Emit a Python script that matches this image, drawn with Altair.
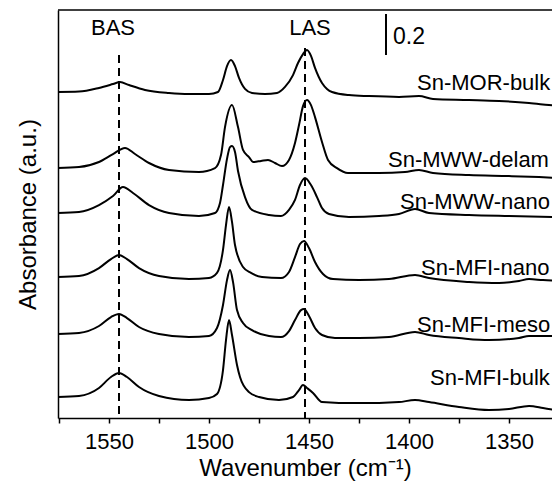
import altair as alt
import pandas as pd

FONT = "Liberation Sans"

# ---- spectra (wavenumber in cm-1, absorbance in a.u. incl. stacking offset) ----
mor_wn = [1575.5, 1565, 1555, 1548, 1544.5, 1540, 1532, 1520, 1510, 1500, 1495.5, 1493, 1491, 1489,
          1487, 1485, 1482, 1478.5, 1472, 1466, 1462, 1458, 1455.5, 1453, 1451, 1449, 1447, 1443.5,
          1441, 1438.5, 1430, 1420, 1405, 1395, 1388, 1370, 1355, 1340, 1330, 1324.5]
mor_ab = [1.598, 1.600, 1.618, 1.637, 1.647, 1.632, 1.608, 1.593, 1.588, 1.588, 1.598, 1.657, 1.725, 1.755,
          1.725, 1.667, 1.613, 1.593, 1.588, 1.593, 1.623, 1.681, 1.740, 1.784, 1.804, 1.775, 1.716, 1.642,
          1.613, 1.598, 1.583, 1.578, 1.574, 1.578, 1.564, 1.559, 1.554, 1.544, 1.534, 1.529]

delam_wn = [1575.5, 1565, 1555, 1548, 1542, 1537, 1530, 1520, 1505, 1497, 1494, 1492, 1488.5, 1485.5,
            1483, 1480, 1478, 1474, 1470.5, 1467, 1463.5, 1460, 1457, 1455, 1453, 1451, 1449, 1447,
            1443.5, 1440.5, 1436, 1430.5, 1415, 1402, 1395, 1388, 1370, 1350, 1335, 1324.5]
delam_ab = [1.225, 1.230, 1.255, 1.294, 1.324, 1.294, 1.250, 1.216, 1.206, 1.225, 1.289, 1.426, 1.534, 1.426,
            1.314, 1.279, 1.255, 1.260, 1.265, 1.250, 1.235, 1.265, 1.348, 1.436, 1.529, 1.559, 1.534, 1.475,
            1.353, 1.265, 1.225, 1.201, 1.201, 1.206, 1.216, 1.201, 1.191, 1.186, 1.181, 1.176]

mwwnano_wn = [1575.5, 1565, 1555, 1548, 1543, 1538, 1530, 1520, 1505, 1497, 1494.5, 1493, 1491, 1489.5,
              1488.5, 1487, 1485.5, 1482, 1478.5, 1470, 1464, 1460, 1457, 1454.5, 1452, 1449, 1446,
              1443.5, 1440, 1430, 1415, 1405, 1397, 1390, 1370, 1350, 1324.5]
mwwnano_ab = [1.005, 1.010, 1.044, 1.088, 1.132, 1.103, 1.044, 1.005, 0.990, 1.005, 1.054, 1.142, 1.270, 1.328,
              1.333, 1.304, 1.211, 1.083, 1.020, 0.995, 0.990, 1.020, 1.069, 1.142, 1.176, 1.142, 1.083,
              1.029, 1.000, 0.985, 0.990, 1.000, 1.025, 1.005, 0.995, 0.990, 0.985]

mfinano_wn = [1575.5, 1565, 1555, 1549, 1545, 1541, 1535, 1525, 1510, 1500, 1496, 1493, 1491.5, 1490,
              1488.5, 1487, 1483, 1479, 1473.5, 1464, 1460, 1457, 1454.5, 1452.5, 1450, 1447, 1443,
              1438, 1425, 1410, 1397, 1390, 1370, 1355, 1345, 1340, 1333, 1324.5]
mfinano_ab = [0.691, 0.696, 0.735, 0.779, 0.799, 0.779, 0.735, 0.696, 0.681, 0.686, 0.711, 0.824, 0.946, 1.034,
              0.961, 0.848, 0.740, 0.711, 0.691, 0.686, 0.716, 0.789, 0.853, 0.868, 0.833, 0.765, 0.706,
              0.681, 0.676, 0.681, 0.701, 0.686, 0.667, 0.662, 0.672, 0.681, 0.676, 0.672]

meso_wn = [1575.5, 1565, 1555, 1549, 1545, 1541, 1535, 1525, 1510, 1500, 1496, 1493, 1491, 1489.5,
           1488, 1486, 1483, 1478.5, 1470, 1464, 1460, 1457, 1454, 1452.5, 1450, 1447, 1443.5,
           1437, 1425, 1410, 1397, 1390, 1375, 1360, 1345, 1340, 1333, 1324.5]
meso_ab = [0.412, 0.417, 0.451, 0.495, 0.510, 0.490, 0.446, 0.412, 0.397, 0.402, 0.441, 0.554, 0.676, 0.725,
           0.667, 0.529, 0.466, 0.431, 0.402, 0.397, 0.426, 0.480, 0.529, 0.534, 0.500, 0.441, 0.407,
           0.392, 0.392, 0.397, 0.422, 0.407, 0.392, 0.382, 0.392, 0.402, 0.402, 0.402]

bulk_wn = [1575.5, 1565, 1555, 1549, 1545, 1541, 1535, 1525, 1510, 1500, 1496, 1493, 1491.5, 1490,
           1488.5, 1486, 1484.5, 1480, 1475, 1465, 1458, 1455, 1453, 1451, 1448, 1443.5, 1435,
           1415, 1405, 1397, 1390, 1375, 1360, 1350, 1340, 1333, 1324.5]
bulk_ab = [0.103, 0.108, 0.147, 0.201, 0.221, 0.201, 0.152, 0.108, 0.088, 0.098, 0.118, 0.235, 0.382, 0.480,
           0.407, 0.260, 0.201, 0.127, 0.103, 0.088, 0.103, 0.137, 0.162, 0.147, 0.123, 0.078, 0.074,
           0.074, 0.078, 0.088, 0.078, 0.054, 0.039, 0.044, 0.059, 0.049, 0.034]

samples = ["Sn-MOR-bulk", "Sn-MWW-delam", "Sn-MWW-nano", "Sn-MFI-nano", "Sn-MFI-meso", "Sn-MFI-bulk"]
series = [(mor_wn, mor_ab), (delam_wn, delam_ab), (mwwnano_wn, mwwnano_ab),
          (mfinano_wn, mfinano_ab), (meso_wn, meso_ab), (bulk_wn, bulk_ab)]

# label anchors
label_wn = [1396, 1410.5, 1404.5, 1394, 1396, 1389.5]
label_ab = [1.642, 1.265, 1.059, 0.735, 0.456, 0.196]

# reference lines (BAS, LAS)
ref_names = ["BAS", "LAS"]
ref_wn = [1545, 1452]
ref_top = [1.779, 1.814]
ref_label_wn = [1548, 1449.5]
ref_label_ab = [1.91, 1.91]

# scale bar
bar_wn = [1411.5]
bar_lo = [1.78]
bar_hi = [1.98]
bar_text = ["0.2"]
bar_text_wn = [1408]
bar_text_ab = [1.87]

W, H = 494, 408
XMAX = 1575.5
XMIN = XMAX - W / 2.0
YMIN, YMAX = 0.0, 2.0

rows = []
for name, (wn, ab) in zip(samples, series):
    for w, a in zip(wn, ab):
        rows.append({"sample": name, "wn": w, "ab": a})
df = pd.DataFrame(rows)

xscale = alt.Scale(domain=[XMIN, XMAX], reverse=True, nice=False, zero=False)
yscale = alt.Scale(domain=[YMIN, YMAX], nice=False, zero=False)

xaxis = alt.Axis(values=[1350, 1375, 1400, 1425, 1450, 1475, 1500, 1525, 1550, 1575],
                 labelExpr="datum.value % 50 == 0 ? datum.label : ''",
                 title="Wavenumber (cm⁻¹)", grid=False, tickSize=5, labelPadding=8,
                 titlePadding=4, format="d")
yaxis = alt.Axis(title="Absorbance (a.u.)", labels=False, ticks=False, grid=False, titlePadding=18)

lines = alt.Chart(df).mark_line(color="black", strokeWidth=2, interpolate="monotone", clip=True).encode(
    x=alt.X("wn:Q", scale=xscale, axis=xaxis),
    y=alt.Y("ab:Q", scale=yscale, axis=yaxis),
    detail="sample:N",
)

ref_df = pd.DataFrame({"name": ref_names, "wn": ref_wn, "top": ref_top, "bot": [0, 0],
                       "lwn": ref_label_wn, "lab": ref_label_ab})
dashes = alt.Chart(ref_df).mark_rule(color="black", strokeWidth=2, strokeDash=[8, 5]).encode(
    x=alt.X("wn:Q", scale=xscale), y=alt.Y("top:Q", scale=yscale), y2="bot:Q")
ref_text = alt.Chart(ref_df).mark_text(font=FONT, fontSize=22, color="black", align="center",
                                       baseline="middle").encode(
    x=alt.X("lwn:Q", scale=xscale), y=alt.Y("lab:Q", scale=yscale), text="name:N")

lab_df = pd.DataFrame({"sample": samples, "wn": label_wn, "ab": label_ab})
labels = alt.Chart(lab_df).mark_text(font=FONT, fontSize=22, color="black", align="left",
                                     baseline="middle").encode(
    x=alt.X("wn:Q", scale=xscale), y=alt.Y("ab:Q", scale=yscale), text="sample:N")

bar_df = pd.DataFrame({"wn": bar_wn, "lo": bar_lo, "hi": bar_hi, "t": bar_text,
                       "twn": bar_text_wn, "tab": bar_text_ab})
bar = alt.Chart(bar_df).mark_rule(color="black", strokeWidth=2).encode(
    x=alt.X("wn:Q", scale=xscale), y=alt.Y("lo:Q", scale=yscale), y2="hi:Q")
bar_label = alt.Chart(bar_df).mark_text(font=FONT, fontSize=23, color="black", align="left",
                                        baseline="middle").encode(
    x=alt.X("twn:Q", scale=xscale), y=alt.Y("tab:Q", scale=yscale), text="t:N")

top_frame = alt.Chart(bar_df).mark_rule(color="black", strokeWidth=1.5).encode(
    x=alt.value(0), x2=alt.value(W), y=alt.value(0))

chart = alt.layer(lines, dashes, ref_text, labels, bar, bar_label, top_frame).properties(
    width=W, height=H,
    padding={"left": 50, "top": 2, "right": 0, "bottom": 64},
    autosize=alt.AutoSizeParams(type="none"),
).configure_view(stroke=None).configure_axis(
    domainColor="black", domainWidth=1.5, tickColor="black", tickWidth=1.5,
    labelFont=FONT, labelFontSize=22, labelColor="black",
    titleFont=FONT, titleFontSize=24, titleFontWeight="normal", titleColor="black",
)

chart.save("out.html", embed_options={"renderer": "svg", "actions": False})
